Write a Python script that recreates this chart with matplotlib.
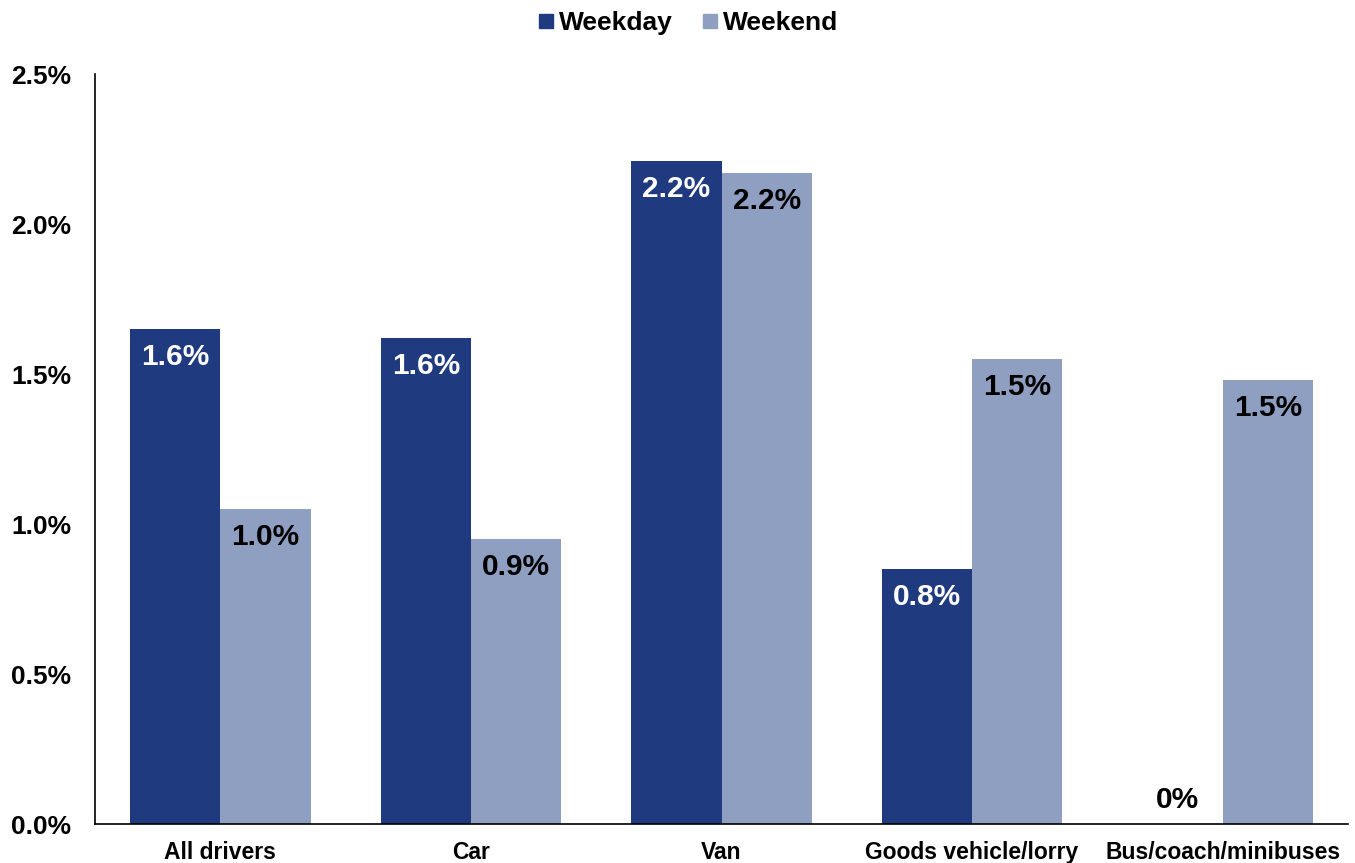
import matplotlib
matplotlib.use("Agg")
import matplotlib.pyplot as plt
from matplotlib.lines import Line2D
import numpy as np

plt.rcParams['font.family'] = ['Liberation Sans', 'DejaVu Sans']
plt.rcParams['font.weight'] = 'bold'

categories = ["All drivers", "Car", "Van", "Goods vehicle/lorry", "Bus/coach/minibuses"]
weekday = [1.65, 1.62, 2.21, 0.85, 0.0]
weekend = [1.05, 0.95, 2.17, 1.55, 1.48]
weekday_labels = ["1.6%", "1.6%", "2.2%", "0.8%", "0%"]
weekend_labels = ["1.0%", "0.9%", "2.2%", "1.5%", "1.5%"]
yticks = [0.0, 0.5, 1.0, 1.5, 2.0, 2.5]
ytick_labels = ["0.0%", "0.5%", "1.0%", "1.5%", "2.0%", "2.5%"]

c_wd = "#1F3A7E"
c_we = "#8E9FC1"

fig = plt.figure(figsize=(13.55, 8.63), dpi=100)
ax = fig.add_axes([95/1355, 1-824/863, (1348-95)/1355, (824-74)/863])

x = np.arange(len(categories))
w = 0.36
ax.bar(x - w/2, weekday, w, color=c_wd, label="Weekday")
ax.bar(x + w/2, weekend, w, color=c_we, label="Weekend")

for xi, v, lab in zip(x - w/2, weekday, weekday_labels):
    if v > 0:
        ax.annotate(lab, (xi, v), xytext=(0, -28*0.72), textcoords="offset points",
                    ha="center", va="center", color="white", fontsize=21.5, fontweight="bold")
    else:
        ax.annotate(lab, (xi, v), xytext=(0, 24*0.72), textcoords="offset points",
                    ha="center", va="center", color="black", fontsize=21.5, fontweight="bold")
for xi, v, lab in zip(x + w/2, weekend, weekend_labels):
    ax.annotate(lab, (xi, v), xytext=(0, -28*0.72), textcoords="offset points",
                ha="center", va="center", color="black", fontsize=21.5, fontweight="bold")

ax.set_xlim(-0.5, len(categories) - 0.5)
ax.set_ylim(0, 2.5)
ax.set_yticks(yticks)
ax.set_yticklabels(ytick_labels, fontsize=19, fontweight="bold")
ax.set_xticks(x)
ax.set_xticklabels(categories, fontsize=16.5, fontweight="bold")
ax.tick_params(axis="both", length=0)
ax.tick_params(axis="y", pad=17)
ax.tick_params(axis="x", pad=12)
for s in ["top", "right"]:
    ax.spines[s].set_visible(False)
for s in ["left", "bottom"]:
    ax.spines[s].set_linewidth(1.2)
    ax.spines[s].set_color("black")

handles = [Line2D([], [], marker="s", linestyle="none", markersize=10, color=c_wd),
           Line2D([], [], marker="s", linestyle="none", markersize=10, color=c_we)]
fig.legend(handles, ["Weekday", "Weekend"], loc="center", bbox_to_anchor=(687/1355, 1-23/863),
           ncol=2, frameon=False, prop={"weight": "bold", "size": 19},
           handletextpad=0.1, columnspacing=1.0, handlelength=0.8)

fig.savefig("out.png", dpi=100)
